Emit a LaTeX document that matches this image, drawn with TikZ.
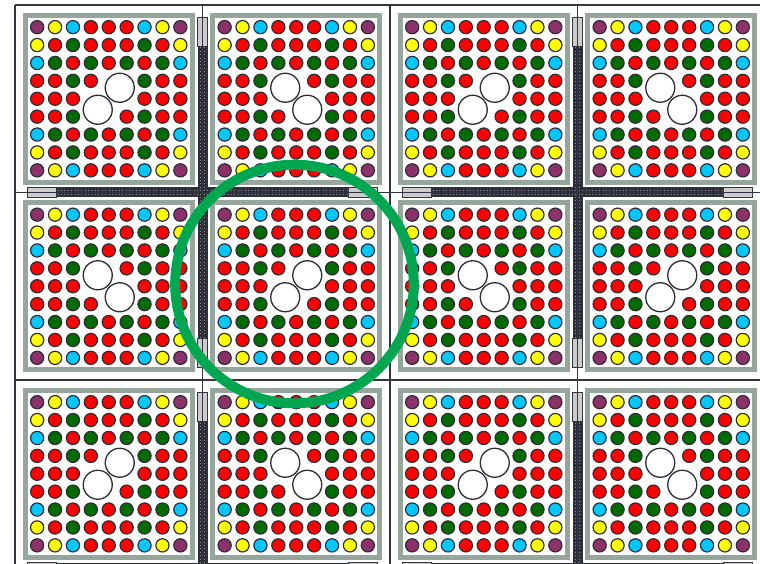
\documentclass[tikz,border=0pt]{standalone}
\usepackage{xcolor}
\usepackage{tikz}
\usetikzlibrary{calc}

\definecolor{pinP}{RGB}{140,50,105}
\definecolor{pinY}{RGB}{255,255,0}
\definecolor{pinC}{RGB}{0,200,255}
\definecolor{pinR}{RGB}{255,0,0}
\definecolor{pinG}{RGB}{0,108,0}
\definecolor{pinline}{RGB}{45,45,55}
\definecolor{chgray}{RGB}{150,166,156}
\definecolor{bladedark}{RGB}{45,48,56}
\definecolor{linedark}{RGB}{50,52,62}
\definecolor{ringgreen}{RGB}{0,166,80}

\def\nopin{N}

\begin{document}
\begin{tikzpicture}[
  x=1pt, y=-1pt,
  pin/.style       = {draw=pinline, line width=1.2pt},
  waterrod/.style  = {draw=pinline, line width=1.3pt, fill=white},
  channel/.style   = {draw=chgray, line width=5pt, fill=white},
  cellline/.style  = {draw=linedark, line width=1.4pt},
  bladebody/.style = {fill=bladedark},
  bladetip/.style  = {draw=linedark, line width=0.9pt, fill=black!20},
  bladedots/.style = {draw=black!45, line width=1pt, dash pattern=on 1pt off 2.4pt},
  ring/.style      = {draw=ringgreen, line width=10pt}
]
\clip (0,0) rectangle (760,564);

% ── Fuel assemblies (s = -1 gives the mirrored lattice) ─────────────────────
\foreach \xc/\yc/\s in {108.75/98.75/1,  296.25/98.75/-1,  483.75/98.75/1,  671.25/98.75/-1,
                        108.75/286.25/-1, 296.25/286.25/1, 483.75/286.25/-1, 671.25/286.25/1,
                        108.75/473.75/1,  296.25/473.75/-1, 483.75/473.75/1,  671.25/473.75/-1} {
  \begin{scope}[shift={(\xc,\yc)}, xscale=\s]
    \draw[channel] (-83.5,-83.5) rectangle (83.5,83.5);
    \foreach \row [count=\j] in {{P,Y,C,R,R,R,C,Y,P},
                                 {Y,R,G,R,R,R,G,R,Y},
                                 {C,G,R,G,R,G,R,G,C},
                                 {R,R,G,R,N,N,G,R,R},
                                 {R,R,R,N,N,N,R,R,R},
                                 {R,R,G,N,N,R,G,R,R},
                                 {C,G,R,G,R,G,R,G,C},
                                 {Y,R,G,R,R,R,G,R,Y},
                                 {P,Y,C,R,R,R,C,Y,P}} {
      \foreach \c [count=\i] in \row {
        \ifx\c\nopin\else
          \draw[pin, fill=pin\c] ({(\i-5)*17.9},{(\j-5)*17.9}) circle[radius=6.6];
        \fi
      }
    }
    \draw[waterrod] (11,-11) circle[radius=14.5];
    \draw[waterrod] (-11,11) circle[radius=14.5];
  \end{scope}
}

% ── Control blades ──────────────────────────────────────────────────────────
\foreach \bx/\by in {202.5/192.5, 577.5/192.5, 202.5/567.5, 577.5/567.5} {
  \fill[bladebody] (\bx-146,\by-5) rectangle (\bx+146,\by+5);
  \fill[bladebody] (\bx-5,\by-146) rectangle (\bx+5,\by+146);
  \draw[bladedots] (\bx-145,\by-2.4) -- (\bx+145,\by-2.4);
  \draw[bladedots] (\bx-145,\by+2.4) -- (\bx+145,\by+2.4);
  \draw[bladedots] (\bx-2.4,\by-145) -- (\bx-2.4,\by+145);
  \draw[bladedots] (\bx+2.4,\by-145) -- (\bx+2.4,\by+145);
  \draw[bladetip] (\bx-175,\by-5) rectangle (\bx-146,\by+5);
  \draw[bladetip] (\bx+146,\by-5) rectangle (\bx+175,\by+5);
  \draw[bladetip] (\bx-5,\by-175) rectangle (\bx+5,\by-146);
  \draw[bladetip] (\bx-5,\by+146) rectangle (\bx+5,\by+175);
}

% ── Cell boundaries ─────────────────────────────────────────────────────────
\foreach \lx in {15, 202.5, 390, 577.5, 765}
  \draw[cellline] (\lx,5) -- (\lx,570);
\foreach \ly in {5, 192.5, 380, 567.5}
  \draw[cellline] (15,\ly) -- (770,\ly);

% ── Highlight ring ──────────────────────────────────────────────────────────
\draw[ring] (294.5,284) circle[radius=119.3];
\end{tikzpicture}
\end{document}
